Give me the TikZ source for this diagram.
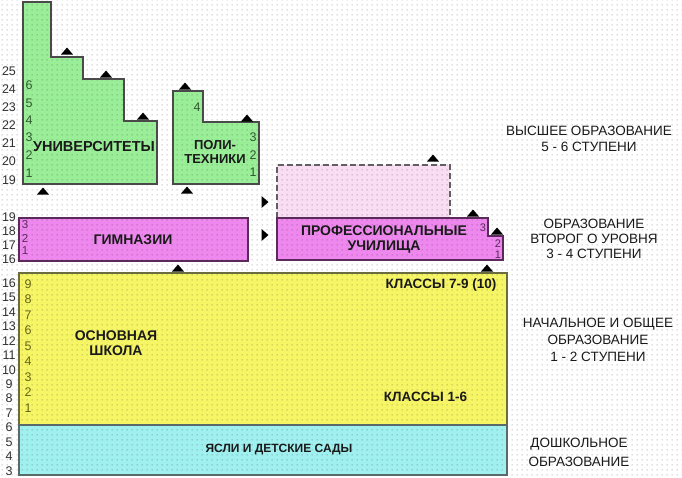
\documentclass[tikz,border=0pt]{standalone}
\usepackage{fontspec}
\setmainfont{Liberation Sans}
\usetikzlibrary{patterns.meta}
\tikzdeclarepattern{name=griddots, type=uncolored,
  bounding box={(0pt,0pt) and (4.6pt,4.6pt)}, tile size={(4.6pt,4.6pt)},
  code={\pgfpathrectangle{\pgfpoint{1.8pt}{1.8pt}}{\pgfpoint{1pt}{1pt}}\pgfusepath{fill}}}
\definecolor{gfill}{HTML}{9AEE98}
\definecolor{gline}{HTML}{4A4A4A}
\definecolor{mfill}{HTML}{EE88EE}
\definecolor{mline}{HTML}{5A2A5A}
\definecolor{pfill}{HTML}{F9DDF2}
\definecolor{yfill}{HTML}{F6F566}
\definecolor{yline}{HTML}{6B6B40}
\definecolor{cfill}{HTML}{A0F0F0}
\definecolor{cline}{HTML}{5A6A6A}
\definecolor{txt}{HTML}{1A1A1A}
\definecolor{gnum}{HTML}{2F5A2F}
\definecolor{mnum}{HTML}{5A2A5A}
\definecolor{ynum}{HTML}{66661A}
\tikzset{
  boxlabel/.style={font=\bfseries\fontsize{14}{15}\selectfont, text=txt, align=center, inner sep=0pt},
  sidelabel/.style={font=\fontsize{13.5}{16}\selectfont, text=txt, align=center, inner sep=0pt},
  axisnum/.style={font=\fontsize{12.5}{13}\selectfont, text=txt!90, inner sep=0pt},
  innum/.style={font=\fontsize{12.5}{13}\selectfont, inner sep=0pt},
  uptri/.pic={\fill (-6,3.5) -- (6,3.5) -- (0,-3.5) -- cycle;},
  righttri/.pic={\fill (-3.5,-6) -- (-3.5,6) -- (3.5,0) -- cycle;},
  outline/.style={line width=1.3pt}
}
\begin{document}
\begin{tikzpicture}[x=1pt,y=-1pt]
\useasboundingbox (0,0) rectangle (682,477);
\fill[white] (0,0) rectangle (682,477);
% fills
\fill[gfill] (23,2)--(51,2)--(51,57)--(83,57)--(83,79)--(124,79)--(124,121)--(157,121)--(157,184)--(23,184)--cycle;
\fill[gfill] (173,91)--(203,91)--(203,122)--(259,122)--(259,184)--(173,184)--cycle;
\fill[mfill] (19,218) rectangle (248,261);
\fill[pfill] (277,165) rectangle (450,218);
\fill[mfill] (277,218)--(488,218)--(488,236)--(503,236)--(503,260)--(277,260)--cycle;
\fill[yfill] (19,273) rectangle (507,425);
\fill[cfill] (19,425) rectangle (507,475);
% dotted grid
\fill[pattern=griddots, pattern color=black, opacity=0.3] (0,0) rectangle (682,477);
% outlines
\draw[outline, gline] (23,2)--(51,2)--(51,57)--(83,57)--(83,79)--(124,79)--(124,121)--(157,121)--(157,184)--(23,184)--cycle;
\draw[outline, gline] (173,91)--(203,91)--(203,122)--(259,122)--(259,184)--(173,184)--cycle;
\draw[outline, mline] (19,218) rectangle (248,261);
\draw[outline, gray!75!black, dash pattern=on 6pt off 3pt] (277,218)--(277,165)--(450,165)--(450,218);
\draw[outline, mline] (277,218)--(488,218)--(488,236)--(503,236)--(503,260)--(277,260)--cycle;
\draw[outline, yline] (19,273) rectangle (507,425);
\draw[outline, cline] (19,425) rectangle (507,475);
% triangles
\foreach \p in {(67,51),(106,74),(143,116),(43,191),(185,86),(247,118),(187,190),(433,158),(473,213),(497,231),(487,268),(178,268)}
  \pic at \p {uptri};
\pic at (265,202) {righttri};
\pic at (265,235) {righttri};
% axis numbers
\foreach \n/\y in {25/71,24/89,23/107,22/125,21/143,20/161,19/180}
  \node[axisnum] (ah\n) at (9,\y) {\n};
\foreach \n/\y in {19/217,18/231,17/245,16/259}
  \node[axisnum] (am\n) at (9,\y) {\n};
\foreach \n in {3,...,16}
  \node[axisnum] (al\n) at (9,{283+(16-\n)*14.46}) {\n};
% inner numbers
\foreach \n/\y in {1/173,2/155,3/137,4/120,5/103,6/85}
  \node[innum, text=gnum] (u\n) at (29,\y) {\n};
\node[innum, text=gnum] (p4) at (197,107) {4};
\foreach \n/\y in {1/172,2/155,3/137}
  \node[innum, text=gnum] (p\n) at (253,\y) {\n};
\foreach \n/\y in {1/251,2/238,3/225}
  \node[innum, text=mnum, font=\fontsize{11.5}{12}\selectfont] (g\n) at (25,\y) {\n};
\node[innum, text=mnum, font=\fontsize{11}{12}\selectfont] (v3) at (483,228) {3};
\node[innum, text=mnum, font=\fontsize{11}{12}\selectfont] (v2) at (498,244) {2};
\node[innum, text=mnum, font=\fontsize{11}{12}\selectfont] (v1) at (498,255) {1};
\foreach \n in {1,...,9}
  \node[innum, text=ynum] (y\n) at (28,{408-(\n-1)*15.5}) {\n};
% box labels
\node[boxlabel, font=\bfseries\fontsize{14.5}{15}\selectfont] (univ) at (94,147) {УНИВЕРСИТЕТЫ};
\node[boxlabel, font=\bfseries\fontsize{13}{14}\selectfont] (poly) at (215,152) {ПОЛИ-\\ТЕХНИКИ};
\node[boxlabel] (gym) at (133,240) {ГИМНАЗИИ};
\node[boxlabel] (prof) at (384,239.5) {ПРОФЕССИОНАЛЬНЫЕ\\УЧИЛИЩА};
\node[boxlabel] (osn) at (116,343.5) {ОСНОВНАЯ\\ШКОЛА};
\node[boxlabel, font=\bfseries\fontsize{13.5}{15}\selectfont] (kl79) at (441,285) {КЛАССЫ 7-9 (10)};
\node[boxlabel, font=\bfseries\fontsize{13.5}{15}\selectfont] (kl16) at (425.5,397) {КЛАССЫ 1-6};
\node[boxlabel, font=\bfseries\fontsize{12}{13}\selectfont] (yasli) at (279,449) {ЯСЛИ И ДЕТСКИЕ САДЫ};
% side labels
\node[sidelabel] (high) at (589,139) {ВЫСШЕЕ ОБРАЗОВАНИЕ\\5 - 6 СТУПЕНИ};
\node[sidelabel, font=\fontsize{13.5}{15}\selectfont] (second) at (594,239) {ОБРАЗОВАНИЕ\\ВТОРОГ О УРОВНЯ\\3 - 4 СТУПЕНИ};
\node[sidelabel, font=\fontsize{13.5}{17}\selectfont] (prim) at (598,340) {НАЧАЛЬНОЕ И ОБЩЕЕ\\ОБРАЗОВАНИЕ\\1 - 2 СТУПЕНИ};
\node[sidelabel, font=\fontsize{13.5}{19}\selectfont] (pre) at (579,452.5) {ДОШКОЛЬНОЕ\\ОБРАЗОВАНИЕ};
\end{tikzpicture}
\end{document}
